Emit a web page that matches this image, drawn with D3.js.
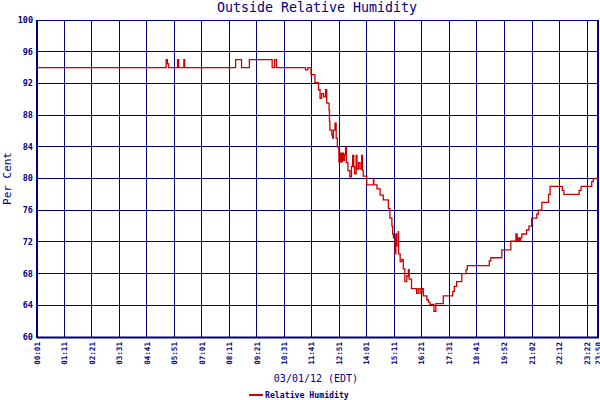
<!DOCTYPE html>
<html>
<head>
<meta charset="utf-8">
<script src="https://cdn.jsdelivr.net/npm/d3@7"></script>
<style>
	body { margin: 0; background: #fff; }
	text { font-family: "DejaVu Sans Mono", monospace; fill: #000080; }
</style>
</head>
<body>
<script>
// readings (time of day, % humidity)
const times = ["00:01","05:30","05:33","05:36","05:59","06:02","06:15","06:17","08:27","08:42","09:02","10:00","10:06","10:11",
	"11:25","11:31","11:39","11:49","11:58","12:02","12:06","12:11","12:16","12:19","12:25","12:26","12:27","12:32","12:34","12:36",
	"12:40","12:43","12:46","12:50","12:54","12:57","12:59","13:02","13:04","13:07","13:09","13:13","13:18","13:22","13:25","13:28",
	"13:30","13:34","13:36","13:40","13:44","13:48","13:50","13:52","14:01","14:18","14:19","14:27","14:35","14:43","14:56","15:00",
	"15:05","15:07","15:09","15:13","15:15","15:17","15:21","15:22","15:26","15:30","15:34","15:38","15:43","15:47","15:49","15:55",
	"16:08","16:12","16:17","16:21","16:25","16:34","16:38","16:42","16:52","16:57","17:16","17:40","17:44","17:50","18:03","18:14",
	"18:17","19:13","19:17","19:45","20:08","20:21","20:24","20:27","20:30","20:33","20:36","20:48","20:54","21:01","21:14","21:18",
	"21:27","21:44","21:48","22:19","22:23","23:02","23:07","23:34","23:38","23:50"];
const humidity = [94,95,94.5,94,95,94,95,94,95,94,95,94,95,94,
	93.7,94,93.1,92.1,91.2,90.1,90.7,90.3,91.2,89.5,88.6,87.2,86.1,85.5,85.1,86.1,
	87,85.1,84,82.1,83.2,82.1,83.2,82.3,83,84,82,81,80.2,81.5,82.9,81.5,
	80.6,82.9,81.2,82,81.2,82.9,81,80.3,79.2,80,79.2,78.7,77.9,77.3,76.2,75,
	74,73,72.5,70.5,73,71.5,73.3,70.5,69.5,69.8,68.6,67,67.7,68.5,67.3,66.1,
	65.5,66.1,65.5,66.1,65.2,64.7,64.4,64.1,63.25,64.2,65.2,65.75,66.4,67,68,68.5,
	69,69.6,70,71,72.1,73,72.1,72.5,72.1,72.5,73,73.5,74,75,75.5,76,
	77,78,79,78.5,78,78.5,79,79.6,80,80];
const xTickLabels = ["00:01","01:11","02:21","03:31","04:41","05:51","07:01","08:11","09:21","10:31","11:41",
	"12:51","14:01","15:11","16:21","17:31","18:41","19:52","21:02","22:12","23:22","23:50"];
const yTicks = [60,64,68,72,76,80,84,88,92,96,100];

const toMin = (s) => +s.slice(0, 2) * 60 + +s.slice(3);

const width = 600, height = 400;
const plotLeft = 37, plotRight = 598, plotTop = 20, plotBottom = 337;
const navy = "#000080", red = "#cc0000";

const svg = d3.select("body").append("svg")
	.attr("width", width)
	.attr("height", height);

const x = d3.scaleLinear()
	.domain([toMin(xTickLabels[0]), toMin(xTickLabels[xTickLabels.length - 1])])
	.range([plotLeft, plotRight]);
const y = d3.scaleLinear()
	.domain([60, 100])
	.range([plotBottom, plotTop]);

// grid
const grid = svg.append("g").attr("shape-rendering", "crispEdges");
grid.selectAll(".hgrid")
	.data(yTicks)
	.enter()
	.append("line")
	.attr("x1", plotLeft).attr("x2", plotRight)
	.attr("y1", (d) => y(d)).attr("y2", (d) => y(d))
	.attr("stroke", navy);
grid.selectAll(".vgrid")
	.data(xTickLabels)
	.enter()
	.append("line")
	.attr("x1", (d) => x(toMin(d))).attr("x2", (d) => x(toMin(d)))
	.attr("y1", plotTop).attr("y2", plotBottom)
	.attr("stroke", navy);

// heavier frame on left, bottom and right
const frame = svg.append("g").attr("stroke", navy).attr("stroke-width", 2);
frame.append("line").attr("x1", plotLeft).attr("x2", plotLeft).attr("y1", plotTop).attr("y2", plotBottom + 1);
frame.append("line").attr("x1", plotLeft).attr("x2", plotRight + 1).attr("y1", plotBottom + 0.5).attr("y2", plotBottom + 0.5);
frame.append("line").attr("x1", plotRight).attr("x2", plotRight).attr("y1", plotTop).attr("y2", plotBottom + 1);

// y labels
svg.append("g")
	.selectAll("text")
	.data(yTicks)
	.enter()
	.append("text")
	.attr("x", 33)
	.attr("y", (d) => y(d))
	.attr("dy", "0.35em")
	.attr("text-anchor", "end")
	.attr("font-size", 8.5)
	.attr("font-weight", "bold")
	.text((d) => d);

// x labels, rotated
svg.append("g")
	.selectAll("text")
	.data(xTickLabels)
	.enter()
	.append("text")
	.attr("transform", (d) => "translate(" + x(toMin(d)) + "," + 342 + ") rotate(-90)")
	.attr("dy", "0.35em")
	.attr("text-anchor", "end")
	.attr("font-size", 7.6)
	.attr("font-weight", "bold")
	.text((d) => d);

// the series
const line = d3.line()
	.x((d, i) => x(toMin(times[i])))
	.y((d) => y(d))
	.curve(d3.curveStepAfter);
svg.append("path")
	.datum(humidity)
	.attr("d", line)
	.attr("fill", "none")
	.attr("stroke", red)
	.attr("stroke-width", 1.3);

// titles
svg.append("text")
	.attr("x", 317)
	.attr("y", 12)
	.attr("text-anchor", "middle")
	.attr("font-size", 13.3)
	.text("Outside Relative Humidity");
svg.append("text")
	.attr("transform", "translate(11," + (plotTop + plotBottom) / 2 + ") rotate(-90)")
	.attr("text-anchor", "middle")
	.attr("font-size", 11)
	.text("Per Cent");
svg.append("text")
	.attr("x", 316)
	.attr("y", 382)
	.attr("text-anchor", "middle")
	.attr("font-size", 10)
	.text("03/01/12 (EDT)");

// legend
svg.append("line")
	.attr("x1", 249).attr("x2", 263)
	.attr("y1", 395).attr("y2", 395)
	.attr("stroke", red)
	.attr("stroke-width", 2);
svg.append("text")
	.attr("x", 265)
	.attr("y", 395)
	.attr("dy", "0.35em")
	.attr("font-size", 8.2)
	.attr("font-weight", "bold")
	.text("Relative Humidity");
</script>
</body>
</html>
